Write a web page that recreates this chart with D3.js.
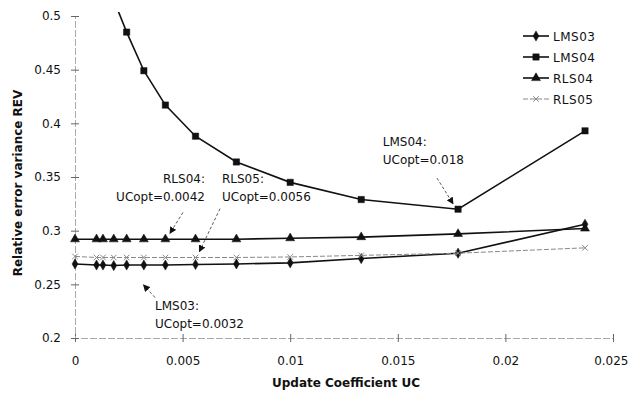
<!DOCTYPE html>
<html>
<head>
<meta charset="utf-8">
<script src="https://cdn.jsdelivr.net/npm/d3@7"></script>
<style>
  body { margin: 0; background: #fff; }
  text { font-family: "DejaVu Sans", Arial, sans-serif; fill: #111; }
</style>
</head>
<body>
<script>
// Update coefficient values (x) and REV for each filter
const uc    = [0, 0.001, 0.0013, 0.0018, 0.0024, 0.0032, 0.0042, 0.0056, 0.0075, 0.01, 0.0133, 0.0178, 0.0237];
const lms03 = [0.269, 0.268, 0.268, 0.2675, 0.268, 0.268, 0.268, 0.2685, 0.269, 0.270, 0.274, 0.279, 0.306];
const lms04 = [null, null, null, 0.515, 0.485, 0.449, 0.417, 0.388, 0.364, 0.345, 0.329, 0.320, 0.393];
const rls04 = [0.292, 0.292, 0.292, 0.292, 0.292, 0.292, 0.292, 0.292, 0.292, 0.293, 0.294, 0.297, 0.302];
const rls05 = [0.276, 0.275, 0.275, 0.275, 0.275, 0.275, 0.275, 0.275, 0.275, 0.2755, 0.277, 0.279, 0.284];

const xTicks = [0, 0.005, 0.01, 0.015, 0.02, 0.025];
const xTickLabels = ["0", "0.005", "0.01", "0.015", "0.02", "0.025"];
const yTicks = [0.2, 0.25, 0.3, 0.35, 0.4, 0.45, 0.5];
const yTickLabels = ["0.2", "0.25", "0.3", "0.35", "0.4", "0.45", "0.5"];

const series = [
  { name: "LMS03", values: lms03, symbol: d3.symbolDiamond, size: 30, color: "#111", width: 1.6, dash: null },
  { name: "LMS04", values: lms04, symbol: d3.symbolSquare,  size: 40, color: "#111", width: 1.6, dash: null },
  { name: "RLS04", values: rls04, symbol: d3.symbolTriangle, size: 35, color: "#111", width: 1.6, dash: null },
  { name: "RLS05", values: rls05, symbol: d3.symbolCross2 || d3.symbolX, size: 22, color: "#888", width: 1, dash: "5,2" }
];

// Annotations: text anchor and leader line, in data units
const notes = [
  { lines: ["LMS04:", "UCopt=0.018"],  tx: 0.0143,  ty: 0.3785, anchor: "start", from: [0.01682, 0.349], to: [0.01757, 0.325] },
  { lines: ["RLS04:", "UCopt=0.0042"], tx: 0.00604, ty: 0.3445, anchor: "end",   from: [0.00502, 0.317], to: [0.00441, 0.2975] },
  { lines: ["RLS05:", "UCopt=0.0056"], tx: 0.00683, ty: 0.3445, anchor: "start", from: [0.00674, 0.3205], to: [0.00578, 0.2805] },
  { lines: ["LMS03:", "UCopt=0.0032"], tx: 0.00372, ty: 0.2265, anchor: "start", from: [0.00372, 0.2377], to: [0.00318, 0.2495] }
];

const W = 629, H = 397;
const margin = {top: 16, right: 16, bottom: 59, left: 75},
      width = W - margin.left - margin.right,
      height = H - margin.top - margin.bottom;

const svg = d3.select("body").append("svg")
    .attr("width", W)
    .attr("height", H);

const defs = svg.append("defs");
defs.append("clipPath").attr("id", "clip")
  .append("rect")
    .attr("x", -12).attr("y", -4)
    .attr("width", width + 24).attr("height", height + 12);
defs.append("marker")
    .attr("id", "arrow")
    .attr("viewBox", "0 0 10 10")
    .attr("refX", 9).attr("refY", 5)
    .attr("markerWidth", 7).attr("markerHeight", 7)
    .attr("markerUnits", "userSpaceOnUse")
    .attr("orient", "auto")
  .append("path")
    .attr("d", "M0,0L10,5L0,10z")
    .attr("fill", "#111");

const g = svg.append("g")
    .attr("transform", `translate(${margin.left},${margin.top})`);

const x = d3.scaleLinear().domain([0, 0.025]).range([0, width]);
const y = d3.scaleLinear().domain([0.2, 0.5]).range([height, 0]);

// Axes
const xAxis = g.append("g")
    .attr("transform", `translate(0,${height})`)
    .call(d3.axisBottom(x).tickValues(xTicks).tickFormat((d, i) => xTickLabels[i]).tickSize(4).tickPadding(14));
xAxis.selectAll(".tick line").attr("y1", -4).attr("stroke", "#666");
// last label sits at the page edge: keep it inside
xAxis.selectAll(".tick text").filter((d, i) => i === xTicks.length - 1)
    .attr("text-anchor", "end").attr("dx", 15);

const yAxis = g.append("g")
    .call(d3.axisLeft(y).tickValues(yTicks).tickFormat((d, i) => yTickLabels[i]).tickSize(4).tickPadding(10));
yAxis.selectAll(".tick line").attr("x1", 4).attr("stroke", "#666");

[xAxis, yAxis].forEach(a => {
  a.select(".domain").attr("stroke", "#aaa").attr("stroke-dasharray", "7,2");
  a.selectAll("text").attr("font-size", 12).attr("font-family", "DejaVu Sans, Arial, sans-serif").attr("fill", "#111");
});

svg.append("text")
    .attr("x", margin.left + width / 2 + 2)
    .attr("y", 387)
    .attr("text-anchor", "middle")
    .attr("font-size", 12)
    .attr("font-weight", "bold")
    .text("Update Coefficient UC");

svg.append("text")
    .attr("transform", `translate(22,${margin.top + height / 2 + 6}) rotate(-90)`)
    .attr("text-anchor", "middle")
    .attr("font-size", 12)
    .attr("font-weight", "bold")
    .text("Relative error variance REV");

// Series
const plot = g.append("g").attr("clip-path", "url(#clip)");

const line = d3.line()
    .defined(d => d[1] != null)
    .x(d => x(d[0]))
    .y(d => y(d[1]));

series.forEach(s => {
  const pts = uc.map((u, i) => [u, s.values[i]]).filter(d => d[1] != null);
  plot.append("path")
      .datum(pts)
      .attr("fill", "none")
      .attr("stroke", s.color)
      .attr("stroke-width", s.width)
      .attr("stroke-dasharray", s.dash)
      .attr("d", line);
  plot.selectAll(null)
    .data(pts)
    .enter().append("path")
      .attr("transform", d => `translate(${x(d[0])},${y(d[1])})`)
      .attr("d", d3.symbol().type(s.symbol).size(s.size))
      .attr("fill", s.name === "RLS05" ? "none" : s.color)
      .attr("stroke", s.color)
      .attr("stroke-width", s.name === "RLS05" ? 1 : 0.5);
});

// Annotations
notes.forEach(n => {
  const t = g.append("text")
      .attr("x", x(n.tx))
      .attr("y", y(n.ty))
      .attr("text-anchor", n.anchor)
      .attr("font-size", 12);
  n.lines.forEach((l, i) => {
    t.append("tspan").attr("x", x(n.tx)).attr("dy", i ? 18 : 0).text(l);
  });
  g.append("line")
      .attr("x1", x(n.from[0])).attr("y1", y(n.from[1]))
      .attr("x2", x(n.to[0])).attr("y2", y(n.to[1]))
      .attr("stroke", "#333")
      .attr("stroke-width", 0.8)
      .attr("stroke-dasharray", "3,2")
      .attr("marker-end", "url(#arrow)");
});

// Legend
const legend = svg.append("g").attr("transform", "translate(523,36)");
series.forEach((s, i) => {
  const row = legend.append("g").attr("transform", `translate(0,${i * 21})`);
  row.append("line")
      .attr("x1", 0).attr("x2", 26)
      .attr("stroke", s.color)
      .attr("stroke-width", s.width)
      .attr("stroke-dasharray", s.dash);
  row.append("path")
      .attr("transform", "translate(13,0)")
      .attr("d", d3.symbol().type(s.symbol).size(s.size))
      .attr("fill", s.name === "RLS05" ? "none" : s.color)
      .attr("stroke", s.color)
      .attr("stroke-width", s.name === "RLS05" ? 1 : 0.5);
  row.append("text")
      .attr("x", 30)
      .attr("y", 4.5)
      .attr("font-size", 12)
      .attr("letter-spacing", 0.5)
      .text(s.name);
});
</script>
</body>
</html>
